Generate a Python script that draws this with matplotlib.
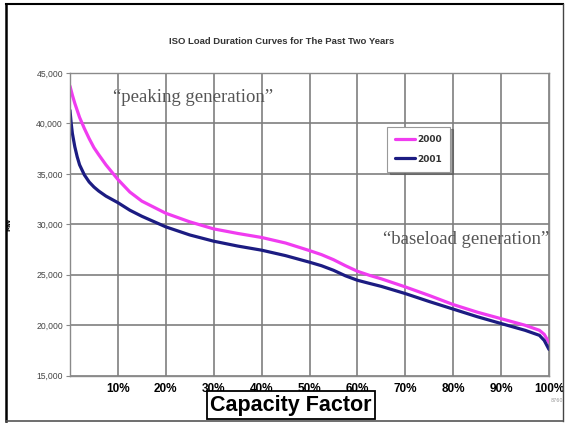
"""
Load duration curves, ISO, 2000 vs 2001
"""
import matplotlib
matplotlib.use('Agg')
import matplotlib.pyplot as plt
from matplotlib.lines import Line2D
from matplotlib.ticker import FuncFormatter

# capacity factor (%) and load (MW)
cap_factor = [0, 0.25, 0.5, 1, 1.5, 2, 3, 4, 5, 6, 7.5, 10, 12.5, 15, 20, 25,
              30, 35, 40, 45, 50, 52.5, 55, 57.5, 60, 62.5, 65, 70, 75, 80,
              85, 90, 95, 98, 99, 100]
load_2000 = [43700, 43250, 42800, 42000, 41300, 40600, 39500, 38500, 37600,
             36900, 35900, 34450, 33200, 32300, 31100, 30250, 29550, 29100,
             28700, 28150, 27400, 27000, 26500, 25900, 25350, 24950, 24600,
             23800, 22950, 22050, 21300, 20650, 20000, 19500, 19100, 18300]
load_2001 = [41300, 40000, 39000, 37700, 36700, 35900, 34900, 34200, 33700,
             33300, 32800, 32150, 31400, 30800, 29750, 28950, 28330, 27850,
             27440, 26900, 26250, 25900, 25450, 24900, 24460, 24150, 23850,
             23140, 22350, 21600, 20850, 20170, 19500, 19000, 18500, 17600]
series = {'2000': load_2000, '2001': load_2001}
colors = {'2000': '#f03cf0', '2001': '#1c1c82'}

x_ticks = [10, 20, 30, 40, 50, 60, 70, 80, 90, 100]
y_ticks = [15000, 20000, 25000, 30000, 35000, 40000, 45000]

fig = plt.figure(figsize=(5.65, 4.26), dpi=100)
ax = fig.add_axes([70 / 565, 1 - 375.7 / 426, 479 / 565, 302.7 / 426])

for name, vals in series.items():
    ax.plot(cap_factor, vals, color=colors[name], lw=2.3, label=name,
            solid_capstyle='round', solid_joinstyle='round')

ax.set_xlim(0, 100)
ax.set_ylim(15000, 45000)
ax.set_xticks(x_ticks)
ax.set_yticks(y_ticks)
ax.set_xticklabels(['%d%%' % t for t in x_ticks])
ax.yaxis.set_major_formatter(FuncFormatter(lambda v, p: '{:,.0f}'.format(v)))
ax.tick_params(axis='x', length=0, pad=5, labelsize=8.5)
ax.tick_params(axis='y', length=3, width=0.8, color='#888888', pad=2,
               labelsize=6.2, labelcolor='#444444')
for lbl in ax.get_xticklabels():
    lbl.set_fontweight('bold')
    lbl.set_fontfamily('Liberation Sans')
for lbl in ax.get_yticklabels():
    lbl.set_fontfamily('Liberation Sans')
ax.grid(True, color='#7f7f7f', lw=1.2)
ax.set_axisbelow(True)
for sp in ax.spines.values():
    sp.set_color('#8a8a8a')
    sp.set_linewidth(1.0)

ax.set_ylabel('MW', fontsize=4.5, fontweight='bold', labelpad=18)

fig.text(282 / 565, 1 - 42 / 426, 'ISO Load Duration Curves for The Past Two Years',
         ha='center', va='center', fontsize=6.8, fontweight='bold',
         color='#333333', family='Liberation Sans')

fig.text(193 / 565, 1 - 98 / 426, '\u201cpeaking generation\u201d',
         ha='center', va='center', fontsize=13.5, color='#555555',
         family='Liberation Serif')
fig.text(466 / 565, 1 - 240 / 426, '\u201cbaseload generation\u201d',
         ha='center', va='center', fontsize=13.5, color='#555555',
         family='Liberation Serif')

leg = ax.legend(loc='upper left', bbox_to_anchor=(0.662, 0.823),
                fontsize=6.5, frameon=True, fancybox=False, shadow=True,
                handlelength=2.2, handletextpad=0.2, labelspacing=1.2,
                borderpad=0.9, borderaxespad=0)
leg.get_frame().set_edgecolor('#999999')
leg.get_frame().set_linewidth(0.8)
for t in leg.get_texts():
    t.set_fontweight('bold')
    t.set_color('#333333')

fig.text(291 / 565, 1 - 405 / 426, 'Capacity Factor', ha='center', va='center',
         fontsize=15.5, fontweight='bold', family='Liberation Sans',
         bbox=dict(boxstyle='square,pad=0.14', fc='white', ec='black', lw=1.3))
fig.text(557 / 565, 1 - 401 / 426, '8760', ha='center', va='center',
         fontsize=3.5, color='#999999')

# outer frame
fig.add_artist(Line2D([6 / 565, 6 / 565], [1 - 421 / 426, 1 - 4 / 426],
                      transform=fig.transFigure, color='black', lw=1.8))
fig.add_artist(Line2D([6 / 565, 563 / 565], [1 - 4 / 426, 1 - 4 / 426],
                      transform=fig.transFigure, color='black', lw=1.5))
fig.add_artist(Line2D([563 / 565, 563 / 565], [1 - 421 / 426, 1 - 4 / 426],
                      transform=fig.transFigure, color='#444444', lw=1.0))
fig.add_artist(Line2D([6 / 565, 563 / 565], [1 - 421 / 426, 1 - 421 / 426],
                      transform=fig.transFigure, color='#555555', lw=1.2))

fig.savefig('out.png', dpi=100)
